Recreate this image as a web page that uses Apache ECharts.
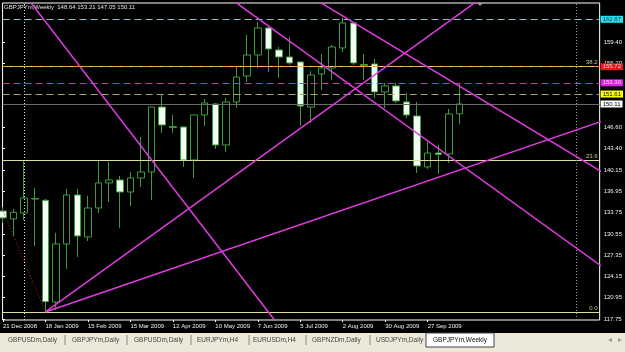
<!DOCTYPE html>
<html>
<head>
<meta charset="utf-8">
<script src="https://cdn.jsdelivr.net/npm/echarts@6/dist/echarts.min.js"></script>
<style>
  html, body { margin: 0; padding: 0; background: #000; }
  #chart { width: 625px; height: 352px; }
</style>
</head>
<body>
<div id="chart"></div>
<script>
// weekly bars, one per week from 21 Dec 2008
const opens  = [134.00,132.80,133.70,135.85,135.61,120.30,129.03,136.41,130.09,134.45,138.22,138.67,136.86,138.97,139.87,149.66,146.70,146.65,141.68,148.46,150.12,143.94,150.42,154.33,157.49,161.56,158.25,157.19,156.44,149.66,154.63,155.54,158.55,162.31,156.05,156.14,151.92,152.83,150.42,148.31,140.63,142.73,142.58,148.64];
const closes = [132.95,133.80,135.96,135.80,120.34,129.03,136.41,130.24,134.45,138.22,138.67,136.86,138.97,139.87,149.66,146.95,146.60,141.68,148.46,150.27,143.94,150.42,154.18,157.49,161.56,158.40,157.19,156.29,149.81,154.48,155.54,158.70,162.31,156.29,155.95,151.92,152.83,150.57,148.46,140.78,142.73,142.51,148.61,150.11];
const lows   = [132.19,130.24,132.64,128.73,118.79,119.09,125.27,127.07,129.48,133.70,135.35,131.44,134.75,137.61,135.66,145.75,145.75,140.63,138.97,146.80,143.34,142.89,149.51,153.43,155.54,154.93,154.03,155.99,146.80,147.25,152.22,153.73,157.95,155.99,153.73,151.02,149.51,150.27,148.01,139.72,140.33,139.57,141.23,147.05];
const highs  = [134.60,134.30,141.68,137.46,135.81,130.69,137.31,137.31,136.26,141.68,141.38,139.27,139.87,145.14,149.70,151.47,148.46,146.70,148.50,150.87,150.27,151.02,155.69,160.51,162.46,161.71,158.70,160.20,156.50,155.08,157.64,159.00,163.07,162.46,157.64,156.89,153.28,153.28,151.77,150.42,144.39,143.94,149.36,153.21];

// date labels every 4 bars
const dateLabels = ['21 Dec 2008','18 Jan 2009','15 Feb 2009','15 Mar 2009','12 Apr 2009','10 May 2009','7 Jun 2009','5 Jul 2009','2 Aug 2009','30 Aug 2009','27 Sep 2009'];
const dateIdx = [0,4,8,12,16,20,24,28,32,36,40];

// price scale ticks
const priceTicks = [117.75,120.95,124.15,127.35,130.55,133.75,136.95,140.15,143.40,146.60,156.20,159.40];

// horizontal price levels (with boxes on the scale)
const levelPrices = [162.87,155.72,153.30,151.61,150.11];
// fibonacci levels
const fibPrices = [118.79,141.68,155.72];
const fibNames  = ['0.0','23.6','38.2'];

// trendlines: [bar index, price] pairs
const trendLines = [
  [[2.43,165.78],[25.57,117.58]],
  [[4.0,118.79],[46.18,167.36]],
  [[4.0,118.79],[57.94,148.35]],
  [[27.92,167.29],[57.94,138.41]],
  [[21.98,165.33],[57.94,123.88]]
];
const fiboBase = [[4.0,118.79],[-0.69,136.64]];
const vLines = [2,54];

const tabNames = ['GBPUSDm,Daily','GBPJPYm,Daily','GBPUSDm,Daily','EURJPYm,H4','EURUSDm,H4','GBPNZDm,Daily','USDJPYm,Daily'];
const activeTab = 'GBPJPYm,Weekly';

const FONT = 'Liberation Sans';
const n = opens.length - 1;
const titleText = 'GBPJPYm,Weekly  ' + [opens[n], highs[n], lows[n], closes[n]].map(v => v.toFixed(2)).join(' ');

const levelStyle = [
  { line: '#7cc8c8', type: [7, 4], box: '#22e4f4', text: '#333' },
  { line: '#f09848', type: [7, 3], box: '#e8161e', text: '#ffd0d0' },
  { line: '#b43cb4', type: [7, 4], box: '#e020e0', text: '#ffe0ff' },
  { line: '#a8a474', type: [7, 4], box: '#ffff10', text: '#000' },
  { line: '#6c6c6c', type: 'solid', box: '#ffffff', text: '#000' }
];

const chart = echarts.init(document.getElementById('chart'));

const tabX = [8, 72, 134, 197, 253, 312, 376];
const sepX = [65, 127, 191, 249, 306, 370];
const graphics = [
  { type: 'text', left: 4, top: 4, style: { text: titleText, fill: '#e6e6e6', font: '6px ' + FONT } },
  { type: 'polygon', shape: { points: [[477, 3], [483, 3], [480, 6]] }, style: { fill: '#9a9a9a' } },
  { type: 'rect', shape: { x: 0, y: 333, width: 625, height: 19 }, style: { fill: '#ece9d8' } },
  { type: 'rect', shape: { x: 426, y: 333, width: 68, height: 14 }, style: { fill: '#fff', stroke: '#444', lineWidth: 1 } },
  { type: 'text', x: 433, y: 340, style: { text: activeTab, fill: '#111', font: '6.5px ' + FONT, verticalAlign: 'middle' } },
  { type: 'text', x: 608, y: 340, style: { text: '◂', fill: '#999', font: '8px DejaVu Sans', verticalAlign: 'middle' } },
  { type: 'text', x: 618, y: 340, style: { text: '▸', fill: '#999', font: '8px DejaVu Sans', verticalAlign: 'middle' } }
];
tabNames.forEach((t, i) => {
  graphics.push({ type: 'text', x: tabX[i], y: 340, style: { text: t, fill: '#444', font: '6.5px ' + FONT, verticalAlign: 'middle' } });
});
sepX.forEach(x => {
  graphics.push({ type: 'line', shape: { x1: x, y1: 335, x2: x, y2: 345 }, style: { stroke: '#8a8a8a', lineWidth: 1 } });
});

const series = [
  {
    type: 'line', data: [], z: 1, silent: true,
    markLine: {
      symbol: ['none', 'none'], silent: true, animation: false,
      data: fibPrices.map((p, i) => ({
        yAxis: p,
        lineStyle: { color: '#dcdca0', width: 1, type: 'solid' },
        label: { show: true, position: 'insideEndTop', formatter: fibNames[i], color: '#c8c88c', fontSize: 6, fontFamily: FONT, distance: [2, 1] }
      })).concat(vLines.map((x, i) => ({
        xAxis: x,
        lineStyle: { color: i === 0 ? '#e8e8e8' : '#9a9a9a', width: 1, type: [1, 2] },
        label: { show: false }
      })))
    }
  },
  {
    type: 'line', data: [], z: 2, silent: true,
    markLine: {
      symbol: ['none', 'none'], silent: true, animation: false,
      data: levelPrices.map((p, i) => ({
        yAxis: p,
        lineStyle: { color: levelStyle[i].line, width: 1, type: levelStyle[i].type },
        label: {
          show: true, position: 'end', formatter: p.toFixed(2), distance: 1,
          backgroundColor: levelStyle[i].box, color: levelStyle[i].text,
          fontSize: 6, fontFamily: FONT, padding: [1, 2, 0, 2]
        }
      }))
    }
  },
  {
    type: 'candlestick', z: 3, barWidth: 7, clip: true, silent: true,
    encode: { x: 0, y: [1, 2, 3, 4] },
    itemStyle: {
      color: '#000', color0: '#f4fff4',
      borderColor: '#3c9c3c', borderColor0: '#3c9c3c', borderColorDoji: '#4cd04c', borderWidth: 1
    },
    data: opens.map((o, i) => [i, o, closes[i], lows[i], highs[i]])
  },
  {
    type: 'line', z: 4, silent: true, symbol: 'none', clip: true,
    lineStyle: { color: '#b02828', width: 1, type: [1, 2] },
    data: fiboBase
  }
].concat(trendLines.map(pts => ({
  type: 'line', z: 5, silent: true, symbol: 'none', clip: true,
  lineStyle: { color: '#e03ce0', width: 1.5 },
  data: pts
})));

const option = {
  backgroundColor: '#000',
  animation: false,
  grid: { left: 2, right: 23.5, top: 3, bottom: 32, show: true, borderColor: '#fff', borderWidth: 1 },
  xAxis: {
    type: 'value', min: -0.04, max: 56.2,
    axisLine: { show: false },
    splitLine: { show: false },
    axisTick: { show: true, customValues: dateIdx, length: 2, lineStyle: { color: '#fff' } },
    axisLabel: {
      customValues: dateIdx, align: 'left', margin: 3, color: '#f0f0f0', fontSize: 6, fontFamily: FONT,
      formatter: v => dateLabels[dateIdx.indexOf(Math.round(v))]
    }
  },
  yAxis: {
    type: 'value', position: 'right', min: 117.58, max: 165.32, scale: true,
    axisLine: { show: false },
    splitLine: { show: false },
    axisTick: { show: true, customValues: priceTicks, length: 2, lineStyle: { color: '#fff' } },
    axisLabel: {
      customValues: priceTicks, margin: 4, color: '#f0f0f0', fontSize: 6, fontFamily: FONT,
      formatter: v => v.toFixed(2)
    }
  },
  series: series,
  graphic: graphics
};

chart.setOption(option);
</script>
</body>
</html>
